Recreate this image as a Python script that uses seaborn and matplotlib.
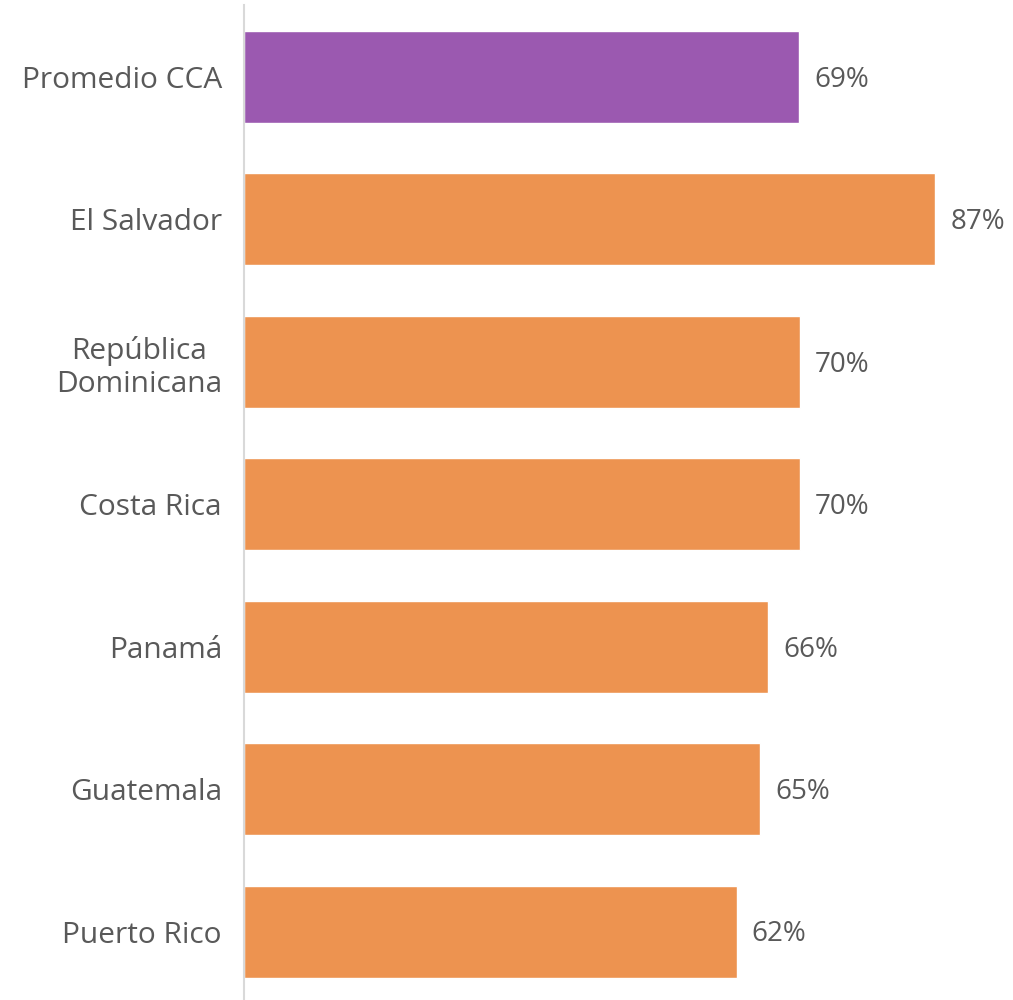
import pandas as pd
import seaborn as sns
import matplotlib.pyplot as plt

# Data
countries = ["Promedio CCA", "El Salvador", "República\nDominicana", "Costa Rica",
             "Panamá", "Guatemala", "Puerto Rico"]
values = [69.9, 87, 70, 70, 66, 65, 62]
groups = ["avg", "pais", "pais", "pais", "pais", "pais", "pais"]

df = pd.DataFrame({"Pais": countries, "Valor": values, "Grupo": groups})

sns.set_theme(style="white")
plt.rcParams["font.family"] = ["Open Sans", "DejaVu Sans"]

fig = plt.figure(figsize=(10.13, 10), dpi=100)
ax = fig.add_axes([0.241, 0.0, 0.759, 0.995])

sns.barplot(data=df, x="Valor", y="Pais", hue="Grupo",
            palette={"avg": "#9B59B0", "pais": "#ED9350"},
            width=0.645, dodge=False, legend=False, saturation=1, ax=ax)

# value labels
for i, v in enumerate(values):
    ax.text(v + 1.9, i + 0.02, f"{int(v)}%", va="center", ha="left",
            fontsize=20, color="#595959")

ax.set_xlim(0, 96.8)
ax.set_ylim(6.48, -0.505)
ax.set_xlabel("")
ax.set_ylabel("")
ax.set_xticks([])
ax.tick_params(axis="y", length=0, pad=16, labelsize=21.5, labelcolor="#595959")
for lbl in ax.get_yticklabels():
    lbl.set_multialignment("center")

for s in ["top", "right", "bottom"]:
    ax.spines[s].set_visible(False)
ax.spines["left"].set_color("#D9D9D9")
ax.spines["left"].set_linewidth(1.5)

fig.savefig("out.png", dpi=100)
